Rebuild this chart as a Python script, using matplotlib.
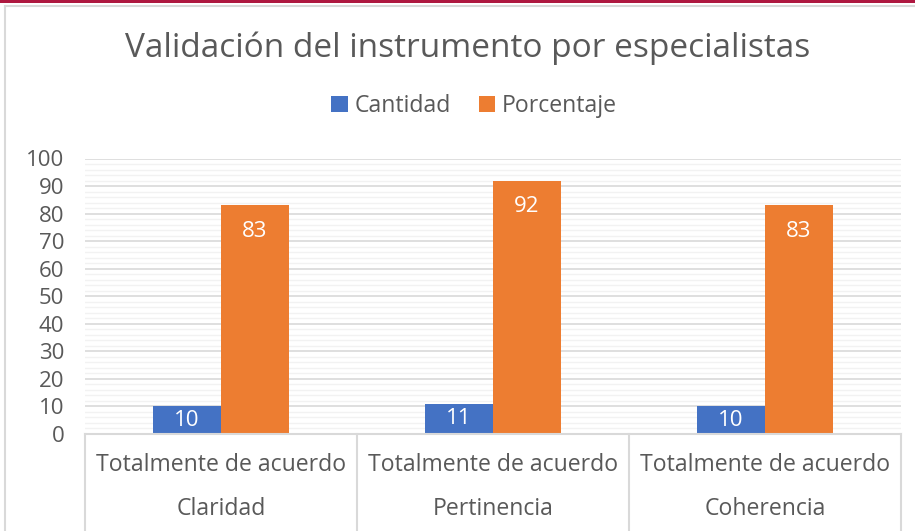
import matplotlib
matplotlib.use("Agg")
import matplotlib.pyplot as plt
from matplotlib.patches import Rectangle
from matplotlib.lines import Line2D
import matplotlib.transforms as mtransforms

categories = ["Claridad", "Pertinencia", "Coherencia"]
sub_label = "Totalmente de acuerdo"
cantidad = [10, 11, 10]
porcentaje = [83, 92, 83]
series_names = ["Cantidad", "Porcentaje"]
yticks = [0, 10, 20, 30, 40, 50, 60, 70, 80, 90, 100]
title = "Validación del instrumento por especialistas"

BLUE = "#4472C4"
ORANGE = "#ED7D31"
TXT = "#595959"
FONT = ["Open Sans", "DejaVu Sans"]
plt.rcParams['font.family'] = FONT

fig = plt.figure(figsize=(9.15, 5.31), dpi=100)
W, H = 915, 531
left, right, top, bottom = 85, 901, 158.5, 434
ax = fig.add_axes([left / W, 1 - bottom / H, (right - left) / W, (bottom - top) / H])

x = list(range(len(categories)))
bw = 0.25
b1 = ax.bar([i - bw / 2 for i in x], cantidad, bw, color=BLUE, zorder=3, label=series_names[0])
b2 = ax.bar([i + bw / 2 for i in x], porcentaje, bw, color=ORANGE, zorder=3, label=series_names[1])

ax.set_xlim(-0.5, len(categories) - 0.5)
ax.set_ylim(0, 100)
ax.set_yticks(yticks)
ax.set_yticklabels([str(t) for t in yticks], fontsize=16, color=TXT)
ax.set_yticks(range(0, 101, 2), minor=True)
ax.tick_params(axis='y', which='both', length=0, pad=15)
ax.set_xticks([])
ax.grid(axis='y', which='minor', color="#F2F2F2", lw=1, zorder=0)
ax.grid(axis='y', which='major', color="#D9D9D9", lw=1.2, zorder=1)
for s in ax.spines.values():
    s.set_visible(False)

# data labels
for i in x:
    ax.annotate(str(cantidad[i]), (i - bw / 2, cantidad[i] / 2), ha='center', va='center',
                color='white', fontsize=16, zorder=4)
    ax.annotate(str(porcentaje[i]), (i + bw / 2, porcentaje[i]), xytext=(0, -19),
                textcoords='offset points', ha='center', va='center', color='white',
                fontsize=16, zorder=4)

# category axis (two-level)
trans = mtransforms.blended_transform_factory(ax.transData, ax.transAxes)
ybot = -(H - bottom) / (bottom - top)
ax.plot([-0.5, len(categories) - 0.5], [0, 0], transform=trans, color="#D9D9D9", lw=1.5,
        clip_on=False, zorder=5)
for d in [i - 0.5 for i in range(len(categories) + 1)]:
    ax.plot([d, d], [0, ybot], transform=trans, color="#D9D9D9", lw=1.5, clip_on=False)
y1 = -(465 - bottom) / (bottom - top)
y2 = -(509 - bottom) / (bottom - top)
for i, c in enumerate(categories):
    ax.text(i, y1, sub_label, transform=trans, ha='center', va='center', fontsize=16.6, color=TXT)
    ax.text(i, y2, c, transform=trans, ha='center', va='center', fontsize=16.6, color=TXT)

# title
fig.text(468 / W, 1 - 48 / H, title, ha='center', va='center', fontsize=24, color=TXT)

# legend
fig.legend(handles=[b1, b2], labels=series_names, loc='center', bbox_to_anchor=(474 / W, 1 - 106 / H),
           ncol=2, frameon=False, fontsize=16.6, labelcolor=TXT, handlelength=0.7, handleheight=0.7,
           handletextpad=0.3, columnspacing=1.2)

# frame decorations
fig.add_artist(Rectangle((0, 1 - 3 / H), 1, 3 / H, transform=fig.transFigure, color="#AE1840", lw=0))
fig.add_artist(Line2D([4.5 / W, 1], [1 - 6 / H, 1 - 6 / H], transform=fig.transFigure, color="#D9D9D9", lw=1.5))
fig.add_artist(Line2D([4.5 / W, 4.5 / W], [0, 1 - 6 / H], transform=fig.transFigure, color="#D9D9D9", lw=1.5))

fig.savefig("out.png", dpi=100)
